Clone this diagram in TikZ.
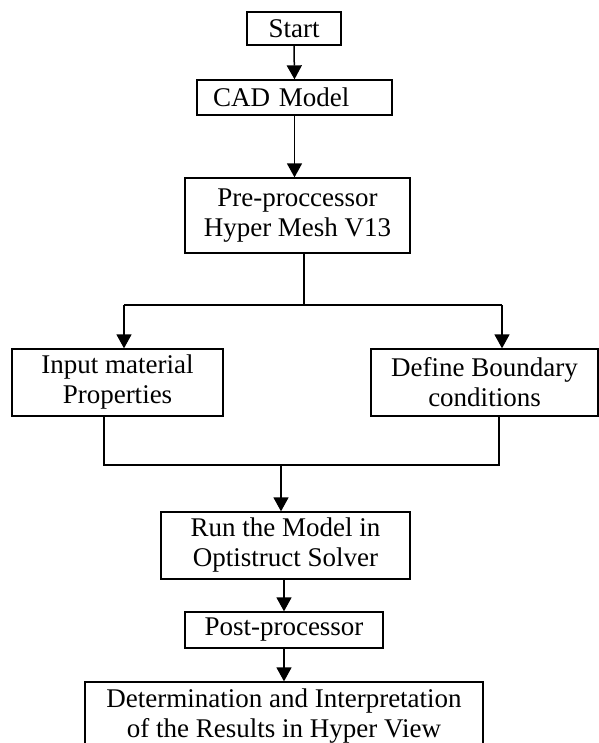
\documentclass[tikz,border=0pt]{standalone}
\usepackage{fontspec}
\setmainfont{Liberation Serif}
\usetikzlibrary{arrows.meta}

\tikzset{
  box/.style={draw, line width=1.3pt, inner sep=0pt, align=center,
    font=\fontsize{27}{30}\selectfont},
  arr/.style={line width=1.5pt, -{Triangle[width=15pt,length=14pt]}},
  ln/.style={line width=1.5pt}
}

\begin{document}
\begin{tikzpicture}[x=1pt,y=-1pt]
\useasboundingbox (0,0) rectangle (598,743);

% Boxes
\node[box, minimum width=94pt, minimum height=33pt] (start) at (294,28.5) {Start};
\node[box, minimum width=195pt, minimum height=35pt, inner xsep=16pt, text width=163pt, align=left] (cad) at (294.5,97.5) {CAD Model};
\node[box, minimum width=225pt, minimum height=75pt] (pre) at (297.5,215.5) {Pre-proccessor\\Hyper Mesh V13};
\node[box, minimum width=211pt, minimum height=67pt] (input) at (117.5,382.5) {Input material\\Properties};
\node[box, minimum width=227pt, minimum height=67pt] (define) at (484.5,382.5) {Define Boundary\\conditions};
\node[box, minimum width=249pt, minimum height=67pt] (run) at (285.5,545.5) {Run the Model in\\Optistruct Solver};
\node[box, minimum width=198pt, minimum height=36pt] (post) at (284,630) {Post-processor};
\node[box, minimum width=398pt, minimum height=68pt] (det) at (284,716) {Determination and Interpretation\\of the Results in Hyper View};

% Split and merge points
\coordinate (split) at (304,305);
\coordinate (splitL) at (124,305);
\coordinate (splitR) at (502,305);
\coordinate (mergeL) at (104,465);
\coordinate (mergeR) at (499,465);
\coordinate (merge) at (281,465);

% Connectors
\draw[arr] (start.south) -- (cad.north);
\draw[arr] (cad.south) -- (cad.south |- pre.north);
\draw[ln] (pre.south -| split) -- (split);
\draw[ln] (splitL) -- (splitR);
\draw[arr] (splitL) -- (splitL |- input.north);
\draw[arr] (splitR) -- (splitR |- define.north);
\draw[ln] (input.south -| mergeL) -- (mergeL) -- (mergeR) -- (define.south -| mergeR);
\draw[arr] (merge) -- (merge |- run.north);
\draw[arr] (post.north |- run.south) -- (post.north);
\draw[arr] (post.south) -- (post.south |- det.north);

\end{tikzpicture}
\end{document}
